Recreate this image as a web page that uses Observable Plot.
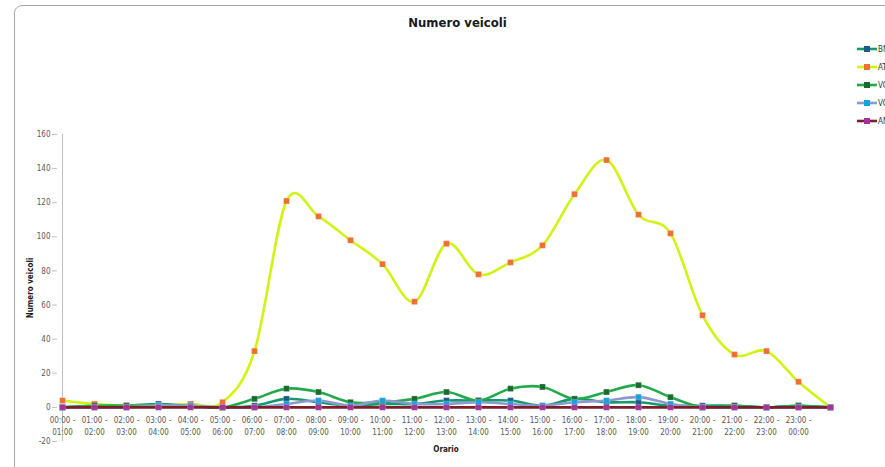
<!DOCTYPE html>
<html>
<head>
<meta charset="utf-8">
<script src="https://cdn.jsdelivr.net/npm/d3@7"></script>
<script src="https://cdn.jsdelivr.net/npm/@observablehq/plot@0.6"></script>
<style>
  html, body { margin: 0; padding: 0; background: #fff; overflow: hidden; }
  #wrap { position: relative; width: 885px; height: 467px; overflow: hidden;
          font-family: "Liberation Sans Narrow", "DejaVu Sans Condensed", "Liberation Sans", sans-serif; }
  #frame { position: absolute; left: 14px; top: 5px; width: 940px; height: 520px;
           border: 1px solid #a6a6a6; border-radius: 8px; box-sizing: border-box; }
  #chart { position: absolute; left: 0; top: 0; }
  #title { position: absolute; left: 0; width: 915px; top: 15px; text-align: center;
           font-size: 13px; font-weight: bold; color: #1a1a1a; }
  #ytitle { position: absolute; left: 30px; top: 288px; transform: translate(-50%, -50%) rotate(-90deg);
            font-size: 8px; font-weight: bold; color: #1a1a1a; white-space: nowrap; }
  #xtitle { position: absolute; left: 446px; top: 449px; transform: translate(-50%, -50%);
            font-size: 8px; font-weight: bold; color: #1a1a1a; }
  #legend { position: absolute; left: 857px; top: 40px; }
  .leg { display: flex; align-items: center; height: 18px; font-size: 8px; color: #333; white-space: nowrap; }
  .leg svg { margin-right: 1px; }
  #chart text { font-family: "Liberation Sans Narrow", "DejaVu Sans Condensed", "Liberation Sans", sans-serif; }
</style>
</head>
<body>
<div id="wrap">
  <div id="frame"></div>
  <div id="chart"></div>
  <div id="title">Numero veicoli</div>
  <div id="ytitle">Numero veicoli</div>
  <div id="xtitle">Orario</div>
  <div id="legend"></div>
</div>
<script>
// ---- data ----
const hours = [
  "00:00 - 01:00","01:00 - 02:00","02:00 - 03:00","03:00 - 04:00","04:00 - 05:00","05:00 - 06:00",
  "06:00 - 07:00","07:00 - 08:00","08:00 - 09:00","09:00 - 10:00","10:00 - 11:00","11:00 - 12:00",
  "12:00 - 13:00","13:00 - 14:00","14:00 - 15:00","15:00 - 16:00","16:00 - 17:00","17:00 - 18:00",
  "18:00 - 19:00","19:00 - 20:00","20:00 - 21:00","21:00 - 22:00","22:00 - 23:00","23:00 - 00:00",""
];
const seriesNames = ["BNL", "ATM", "VOL1", "VOL2", "ANM"];
const bn  = [0,1,1,2,1,0,1,5,3,1,2,2,4,4,4,1,5,3,3,1,1,1,0,1,0];
const at  = [4,2,1,1,2,3,33,121,112,98,84,62,96,78,85,95,125,145,113,102,54,31,33,15,0];
const vo1 = [0,1,1,1,1,0,5,11,9,3,3,5,9,4,11,12,5,9,13,6,0,1,0,1,0];
const vo2 = [0,0,0,1,1,0,0,2,4,1,4,2,2,3,2,1,3,4,6,2,0,0,0,0,0];
const an  = [0,0,0,0,0,0,0,0,0,0,0,0,0,0,0,0,0,0,0,0,0,0,0,0,0];
const yTicks = [-20,0,20,40,60,80,100,120,140,160];

// ---- styles ----
const lineColors   = ["#16986f", "#d2f212", "#21a94b", "#8d98cf", "#7b1f2b"];
const markerColors = ["#1e5b8a", "#ee6f2f", "#1b6b2e", "#18a2dc", "#a3339a"];

const values = [bn, at, vo1, vo2, an];
const rows = [];
values.forEach((arr, s) => arr.forEach((v, i) => rows.push({series: seriesNames[s], hour: hours[i], value: v})));

const marks = [
  Plot.ruleX([hours[0]], {y1: yTicks[0], y2: yTicks[yTicks.length - 1], stroke: "#bfbfbf", strokeWidth: 1}),
  Plot.axisY(yTicks, {tickSize: 5, tickPadding: 2, fontSize: 8, fill: "#595959", stroke: "#bfbfbf",
    tickFormat: d => String(d), label: null}),
  Plot.text(hours, {x: d => d, y: () => 0, text: d => d ? d.replace(" - ", " -\n") : "",
    dy: 7, lineAnchor: "top", lineHeight: 1.5, fontSize: 8, fill: "#595959"})
];
seriesNames.forEach((name, s) => {
  const data = rows.filter(r => r.series === name);
  marks.push(Plot.line(data, {x: "hour", y: "value", stroke: lineColors[s], strokeWidth: 2.6, curve: "cardinal"}));
  marks.push(Plot.dot(data, {x: "hour", y: "value", symbol: "square", r: 3.3, fill: markerColors[s],
    stroke: "white", strokeOpacity: 0.35, strokeWidth: 0.6}));
});

const chart = Plot.plot({
  width: 885, height: 467,
  marginLeft: 57, marginRight: 51, marginTop: 134, marginBottom: 26,
  x: {type: "point", domain: hours, padding: 0, range: [57, 834], axis: null},
  y: {domain: [yTicks[0], yTicks[yTicks.length - 1]], axis: null},
  marks
});
document.getElementById("chart").appendChild(chart);

// ---- legend ----
const legend = d3.select("#legend");
seriesNames.forEach((name, s) => {
  const row = legend.append("div").attr("class", "leg");
  const svg = row.append("svg").attr("width", 20).attr("height", 8);
  svg.append("line").attr("x1", 0).attr("x2", 20).attr("y1", 4).attr("y2", 4)
     .attr("stroke", lineColors[s]).attr("stroke-width", 2.6);
  svg.append("rect").attr("x", 7).attr("y", 1).attr("width", 6).attr("height", 6).attr("fill", markerColors[s]);
  row.append("span").text(name);
});
</script>
</body>
</html>
